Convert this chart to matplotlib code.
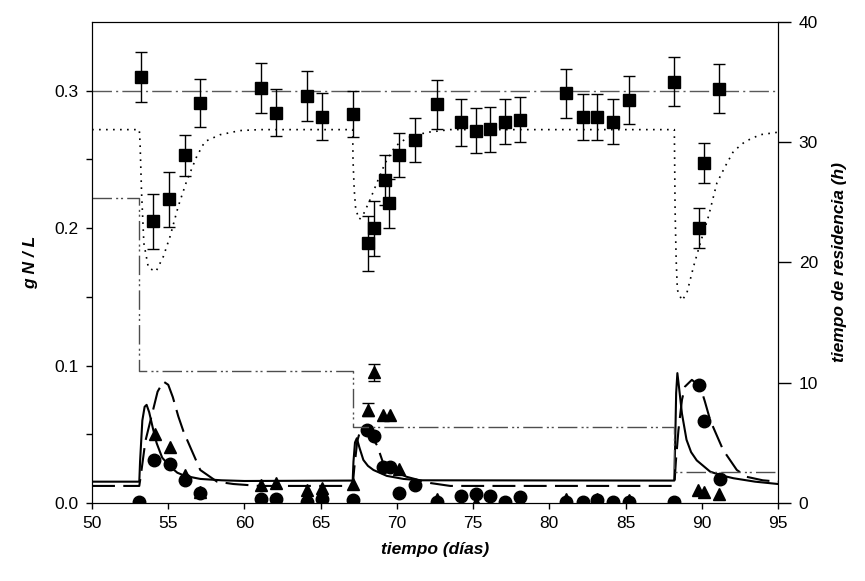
import numpy as np
import matplotlib
matplotlib.use('Agg')
import matplotlib.pyplot as plt

plt.rcParams['font.family'] = ['Liberation Sans', 'DejaVu Sans']

# squares (g N/L) with error bars
sq_x = [53.2, 54.0, 55.05, 56.1, 57.1, 61.1, 62.1, 64.1, 65.1, 67.1, 68.1, 68.5, 69.2, 69.5,
        70.15, 71.2, 72.6, 74.2, 75.2, 76.1, 77.1, 78.1, 81.1, 82.2, 83.1, 84.2, 85.2,
        88.2, 89.8, 90.15, 91.15]
sq_y = [0.310, 0.205, 0.221, 0.253, 0.291, 0.302, 0.284, 0.296, 0.281, 0.283, 0.189, 0.200,
        0.235, 0.218, 0.253, 0.264, 0.290, 0.277, 0.271, 0.272, 0.2775, 0.279, 0.298, 0.281,
        0.281, 0.2775, 0.293, 0.3066, 0.200, 0.2475, 0.3015]
sq_err = [0.018, 0.020, 0.020, 0.015, 0.0175, 0.018, 0.017, 0.018, 0.017, 0.017, 0.020, 0.020,
          0.018, 0.018, 0.016, 0.016, 0.0175, 0.017, 0.0165, 0.0165, 0.0165, 0.0165, 0.018,
          0.0165, 0.0165, 0.0165, 0.0175, 0.018, 0.0145, 0.0145, 0.018]

# triangles
tri_x = [54.1, 55.1, 56.1, 57.1, 61.1, 62.1, 64.1, 65.1, 67.1, 69.1, 69.55, 70.15,
         72.6, 75.2, 81.1, 83.1, 85.2, 89.75, 90.15, 91.15]
tri_y = [0.050, 0.041, 0.020, 0.008, 0.013, 0.0145, 0.0095, 0.011, 0.0138, 0.064,
         0.064, 0.025, 0.003, 0.0, 0.003, 0.003, 0.002, 0.0095, 0.008, 0.0065]
# triangles with error bars
trie_x = [68.1, 68.5]
trie_y = [0.068, 0.095]
trie_err = [0.005, 0.006]

# circles
cir_x = [53.1, 54.05, 55.1, 56.1, 57.1, 61.1, 62.1, 64.1, 65.1, 67.1, 68.05, 68.5, 69.1, 69.55,
         70.15, 71.2, 72.6, 74.2, 75.2, 76.1, 77.1, 78.1, 81.1, 82.2, 83.1, 84.2, 85.2, 88.2,
         89.8, 90.15, 91.2]
cir_y = [0.001, 0.031, 0.028, 0.017, 0.007, 0.003, 0.003, 0.001, 0.003, 0.002, 0.053, 0.049,
         0.026, 0.026, 0.0075, 0.013, 0.001, 0.005, 0.0065, 0.005, 0.001, 0.004, 0.001, 0.001,
         0.002, 0.001, 0.001, 0.001, 0.086, 0.060, 0.0175]

# model curves (g N/L)
solid_x = [50, 53.1, 53.15, 53.3, 53.45, 53.58, 53.75, 54.0, 54.24, 54.6, 55.12, 55.6, 56.1, 57.1,
           58.5, 60, 67.1, 67.15, 67.25, 67.37, 67.55, 67.8, 68.1, 68.46, 69.34, 70.43, 71.5,
           88.2, 88.25, 88.32, 88.4, 88.5, 88.7, 89.0, 89.3, 89.67, 90.55, 91.3, 92.08, 93.5, 95]
solid_y = [0.0155, 0.0155, 0.030, 0.060, 0.070, 0.0714, 0.066, 0.054, 0.0435, 0.033, 0.0265, 0.022,
           0.0197, 0.0175, 0.0165, 0.016, 0.0163, 0.030, 0.044, 0.0471, 0.040, 0.0313, 0.027, 0.024,
           0.0197, 0.0175, 0.0165, 0.0163, 0.040, 0.080, 0.0945, 0.085, 0.065, 0.046, 0.037, 0.031,
           0.0228, 0.020, 0.018, 0.0155, 0.0138]

dash_x = [50, 53.1, 53.2, 53.5, 53.9, 54.3, 54.68, 55.0, 55.3, 55.66, 56.0, 56.43, 57.1, 58.2,
          59.27, 61, 67.1, 67.2, 67.4, 67.6, 67.9, 68.2, 68.7, 69.1, 69.8, 70.65, 71.5, 72.2, 73.5,
          88.2, 88.3, 88.47, 88.7, 88.9, 89.35, 89.9, 90.2, 90.56, 91.4, 92.3, 92.96, 94.0, 95]
dash_y = [0.0124, 0.0124, 0.020, 0.045, 0.063, 0.081, 0.0884, 0.086, 0.077, 0.063, 0.052, 0.041,
          0.024, 0.0155, 0.0138, 0.0124, 0.0124, 0.025, 0.045, 0.053, 0.055, 0.050, 0.042, 0.029,
          0.023, 0.019, 0.0165, 0.0145, 0.0124, 0.0124, 0.030, 0.053, 0.075, 0.0847, 0.0896,
          0.0847, 0.074, 0.060, 0.0386, 0.024, 0.019, 0.0165, 0.0155]

dot_x = [50, 53.1, 53.15, 53.25, 53.4, 53.7, 54.2, 54.68, 55.12, 55.66, 56.2, 56.87, 57.4, 58.4,
         59.71, 61, 67.1, 67.12, 67.2, 67.3, 67.54, 67.8, 68.24, 68.68, 69.23, 69.88, 70.65, 71.96,
         73.5, 88.2, 88.22, 88.25, 88.32, 88.4, 88.7, 89.02, 89.46, 89.9, 90.44, 90.99, 91.54,
         92.08, 92.85, 93.83, 94.93, 95]
dot_y = [0.2717, 0.2717, 0.262, 0.2256, 0.189, 0.171, 0.1685, 0.1794, 0.194, 0.216, 0.234, 0.2522,
         0.263, 0.268, 0.271, 0.2717, 0.2717, 0.2498, 0.228, 0.2134, 0.2064, 0.210, 0.2207, 0.2328,
         0.2474, 0.2595, 0.2656, 0.2697, 0.2717, 0.2717, 0.2498, 0.2134, 0.177, 0.155, 0.1473,
         0.1527, 0.172, 0.189, 0.2085, 0.2328, 0.245, 0.2559, 0.2631, 0.268, 0.2697, 0.270]

ref_x = [50, 95]
ref_y = [0.3, 0.3]

# residence time steps (h)
res_x = [50, 53.1, 67.1, 88.2, 95]
res_h = [25.4, 11.0, 6.35, 2.6, 2.6]

fig = plt.figure(figsize=(8.65, 5.81), dpi=100)
ax = fig.add_axes([0.1064, 0.1343, 0.7930, 0.8278])
ax2 = ax.twinx()

ax.plot(ref_x, ref_y, color='0.35', lw=1.0, dashes=(14, 3, 1.5, 3))
ax.plot(dot_x, dot_y, color='k', lw=1.2, dashes=(1, 3.2))
ax.plot(solid_x, solid_y, color='k', lw=1.5)
ax.plot(dash_x, dash_y, color='k', lw=1.5, dashes=(11, 4))
ax2.plot(res_x, res_h, color='0.3', lw=1.0, drawstyle='steps-post', dashes=(14, 3, 1.5, 2, 1.5, 3))

ax.errorbar(sq_x, sq_y, yerr=sq_err, fmt='s', color='k', ms=9, capsize=4, elinewidth=1, capthick=1)
ax.plot(tri_x, tri_y, '^', color='k', ms=9)
ax.errorbar(trie_x, trie_y, yerr=trie_err, fmt='^', color='k', ms=9, capsize=4, elinewidth=1, capthick=1)
ax.plot(cir_x, cir_y, 'o', color='k', ms=9)

ax.set_xlim(50, 95)
ax.set_ylim(0, 0.35)
ax2.set_ylim(0, 40)
ax.set_xticks(np.arange(50, 96, 5))
ax.set_yticks([0.0, 0.1, 0.2, 0.3])
ax.set_yticks([0.05, 0.15, 0.25], minor=True)
ax.set_yticklabels(['0.0', '0.1', '0.2', '0.3'])
ax2.set_yticks([0, 10, 20, 30, 40])
ax.tick_params(direction='out', labelsize=12.5, length=4.5, width=1, pad=5)
ax.tick_params(which='minor', direction='out', length=4.5, width=1)
ax2.tick_params(direction='out', labelsize=12.5, length=9, width=1, pad=6)

ax.set_xlabel('tiempo (días)', fontsize=12.5, fontweight='bold', style='italic', labelpad=8)
ax.set_ylabel('g N / L', fontsize=12.5, fontweight='bold', style='italic', labelpad=12)
ax2.set_ylabel('tiempo de residencia (h)', fontsize=12.5, fontweight='bold', style='italic', labelpad=10)

plt.savefig('out.png', dpi=100)
